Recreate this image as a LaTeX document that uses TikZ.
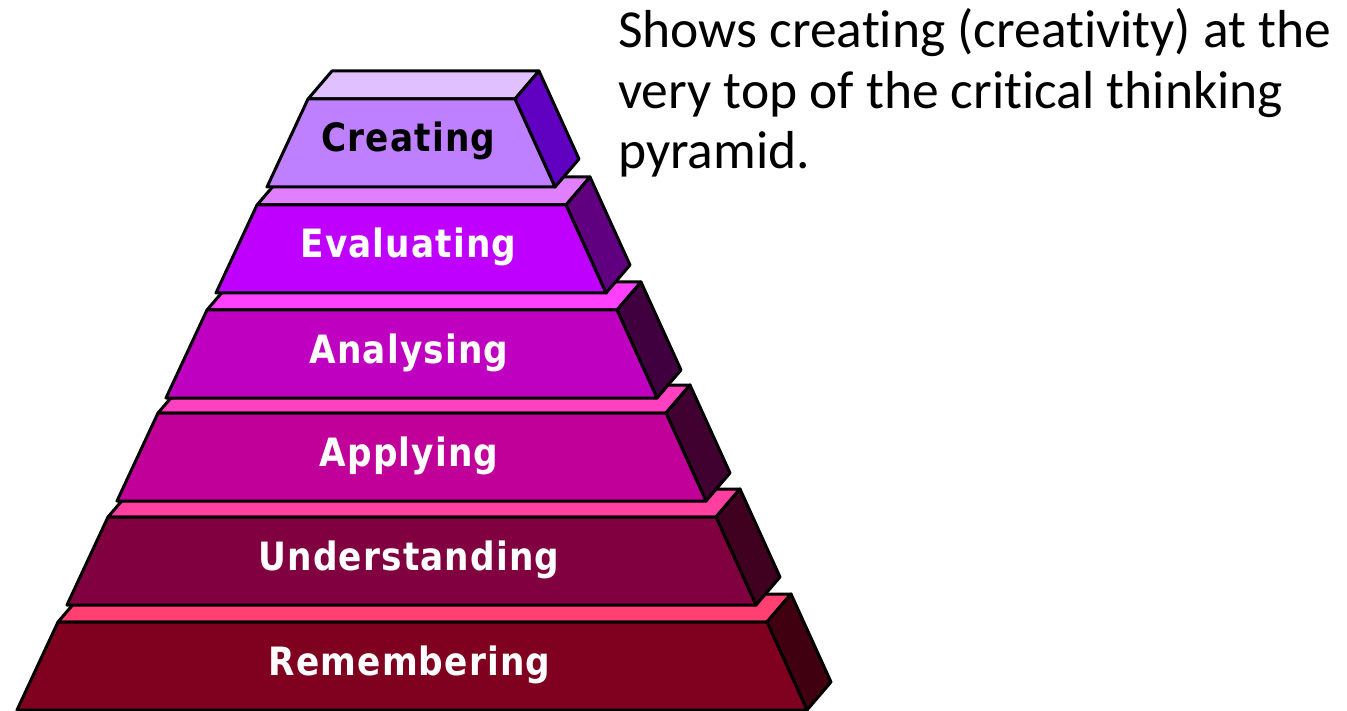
\documentclass[tikz,border=0pt]{standalone}
\usepackage{fontspec}
\setmainfont{Carlito}[Ligatures={NoCommon}]
\newfontfamily\pixfont{DejaVu Sans}[FakeStretch=0.88, LetterSpace=3]

% face colours, top tier to bottom tier
\definecolor{creFront}{HTML}{BF80FF}\definecolor{creTop}{HTML}{E0C0FF}\definecolor{creSide}{HTML}{6000C0}
\definecolor{evaFront}{HTML}{BF00FF}\definecolor{evaTop}{HTML}{E080FF}\definecolor{evaSide}{HTML}{600080}
\definecolor{anaFront}{HTML}{C000C0}\definecolor{anaTop}{HTML}{FF40FF}\definecolor{anaSide}{HTML}{400040}
\definecolor{appFront}{HTML}{C00098}\definecolor{appTop}{HTML}{FF40C0}\definecolor{appSide}{HTML}{400030}
\definecolor{undFront}{HTML}{800040}\definecolor{undTop}{HTML}{FF40A0}\definecolor{undSide}{HTML}{400020}
\definecolor{remFront}{HTML}{800020}\definecolor{remTop}{HTML}{FF4070}\definecolor{remSide}{HTML}{400010}

\tikzset{
  face/.style={draw=black, line width=3pt, line join=round},
  tierlabel/.style={anchor=base, inner sep=0pt, font=\pixfont\bfseries\fontsize{39}{44}\selectfont},
  caption/.style={anchor=base west, inner sep=0pt, font=\fontsize{53.5}{61}\selectfont}
}

% one block of the pyramid: top face, right face, front face and its label
% #1 node name, #2 top y, #3 top-left x, #4 top-right x,
% #5 front colour, #6 top colour, #7 side colour, #8 text colour, #9 label
\newcommand\pyrtier[9]{%
  \pgfmathsetmacro\Lb{#3-41}%
  \pgfmathsetmacro\Rb{#4+40}%
  \pgfmathsetmacro\Bt{#2+88}%
  \filldraw[face, fill=#6] (#3,#2) -- (#4,#2) -- (#4+24,#2-28) -- (#3+24,#2-28) -- cycle;
  \filldraw[face, fill=#7] (#4,#2) -- (\Rb,\Bt) -- (\Rb+24,\Bt-28) -- (#4+24,#2-28) -- cycle;
  \filldraw[face, fill=#5] (#3,#2) -- (#4,#2) -- (\Rb,\Bt) -- (\Lb,\Bt) -- cycle;
  \node[tierlabel, text=#8] (#1) at ({(#3+#4)/2-3},#2+53) {#9};
}

\begin{document}
\begin{tikzpicture}[x=1pt, y=-1pt]
  \useasboundingbox (0,0) rectangle (1347,711);

  % blocks drawn from the base upwards so each one covers the top of the one below
  \pyrtier{remembering}{622}{58}{767}{remFront}{remTop}{remSide}{white}{Remembering}
  \pyrtier{understanding}{517}{108}{716}{undFront}{undTop}{undSide}{white}{Understanding}
  \pyrtier{applying}{413}{158}{666}{appFront}{appTop}{appSide}{white}{Applying}
  \pyrtier{analysing}{310}{207}{617}{anaFront}{anaTop}{anaSide}{white}{Analysing}
  \pyrtier{evaluating}{205}{257}{566}{evaFront}{evaTop}{evaSide}{white}{Evaluating}
  \pyrtier{creating}{99}{308}{515}{creFront}{creTop}{creSide}{black}{Creating}

  % caption
  \node[caption] (cap1) at (618,48)  {Shows creating (creativity) at the};
  \node[caption] (cap2) at (618,109) {very top of the critical thinking};
  \node[caption] (cap3) at (618,169) {pyramid.};
\end{tikzpicture}
\end{document}
